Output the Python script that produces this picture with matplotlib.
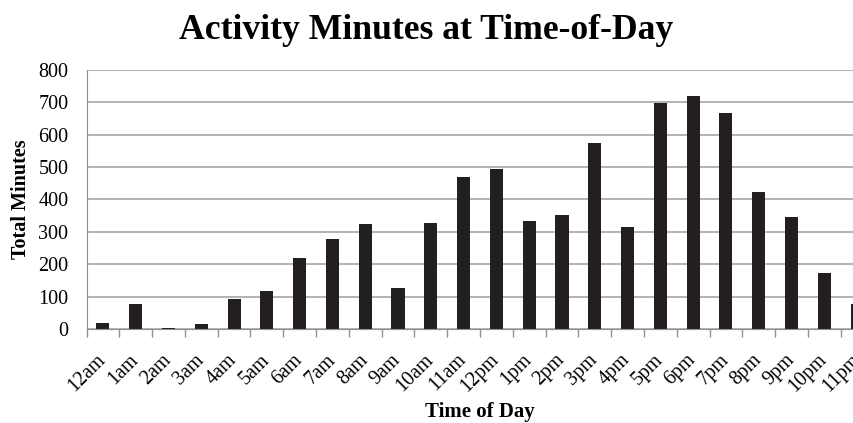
import numpy as np
import matplotlib.pyplot as plt

plt.rcParams['font.family'] = ['Liberation Serif', 'DejaVu Serif']

hours = ['12am', '1am', '2am', '3am', '4am', '5am', '6am', '7am', '8am', '9am',
         '10am', '11am', '12pm', '1pm', '2pm', '3pm', '4pm', '5pm', '6pm', '7pm',
         '8pm', '9pm', '10pm', '11pm']
minutes = [20, 77, 5, 16, 94, 118, 221, 278, 325, 128, 327, 469, 494, 333, 353,
           574, 314, 696, 718, 667, 422, 347, 172, 79]

fig = plt.figure(figsize=(8.54, 4.23), dpi=100)
# axes runs off the right edge like the original screenshot
ax = fig.add_axes([0.1013, 0.2215, 0.9215, 0.614])

x = np.arange(len(hours))
ax.bar(x, minutes, width=0.4, color='#231f20', zorder=3)

ax.set_xlim(-0.5, len(hours) - 0.5)
ax.set_ylim(0, 800)
ax.set_yticks(range(0, 801, 100))
ax.yaxis.grid(True, color='#a6a6a6', linewidth=1.2, zorder=0)
ax.tick_params(axis='y', length=0, labelsize=14.5, pad=13)

ax.set_xticks(x)
ax.set_xticklabels(hours, rotation=45, ha='right', va='center',
                   rotation_mode='anchor', fontsize=14.5)
ax.tick_params(axis='x', which='major', length=0, pad=20)
ax.set_xticks(np.arange(-0.5, len(hours), 1), minor=True)
ax.tick_params(axis='x', which='minor', length=6, color='#909090', width=1)

for s in ['top', 'right']:
    ax.spines[s].set_visible(False)
ax.spines['left'].set_color('#909090')
ax.spines['bottom'].set_color('#909090')
ax.spines['bottom'].set_zorder(4)

ax.set_ylabel('Total Minutes', fontsize=14.5, fontweight='bold', labelpad=5)
ax.set_xlabel('Time of Day', fontsize=15, fontweight='bold')
ax.xaxis.set_label_coords(0.5, -0.281)
fig.text(426 / 854, 0.966, 'Activity Minutes at Time-of-Day', ha='center', va='top',
         fontsize=25.7, fontweight='bold')

fig.savefig('out.png', dpi=100)
